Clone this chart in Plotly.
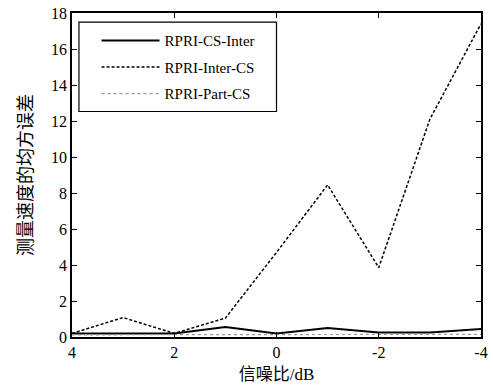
import plotly.graph_objects as go

snr = [4, 3, 2, 1, 0, -1, -2, -3, -4]
cs_inter = [0.2, 0.2, 0.2, 0.55, 0.2, 0.5, 0.25, 0.25, 0.45]
inter_cs = [0.2, 1.08, 0.2, 1.05, 4.7, 8.45, 3.85, 12.1, 17.4]
part_cs = [0.12, 0.12, 0.12, 0.15, 0.12, 0.12, 0.12, 0.12, 0.15]

names = ["RPRI-CS-Inter", "RPRI-Inter-CS", "RPRI-Part-CS"]
x_ticks = [4, 2, 0, -2, -4]
x_tick_text = ["4", "2", "0", "-2", "-4"]
y_ticks = list(range(0, 19, 2))

fig = go.Figure()
fig.add_trace(go.Scatter(x=snr, y=cs_inter, name=names[0], mode="lines",
                         line=dict(color="black", width=2), legendgroup="a"))
fig.add_trace(go.Scatter(x=snr, y=inter_cs, name=names[1], mode="lines",
                         line=dict(color="black", width=1.5, dash="3px,2px"), legendgroup="b"))
fig.add_trace(go.Scatter(x=snr, y=part_cs, name=names[2], mode="lines",
                         line=dict(color="#9a9a9a", width=1.2, dash="dot"), legendgroup="c"))

font_main = "'Liberation Serif', 'Times New Roman', 'Noto Sans CJK SC', serif"
tick_font = dict(family=font_main, size=16, color="black")

fig.update_layout(
    width=493, height=389,
    margin=dict(l=72, r=5, t=11, b=52),
    paper_bgcolor="white", plot_bgcolor="white",
    font=dict(family=font_main, size=15, color="black"),
    showlegend=True,
    legend=dict(x=0.06, y=0.965, xanchor="left", yanchor="top",
                bgcolor="rgba(0,0,0,0)", borderwidth=0,
                font=dict(size=15, family=font_main),
                tracegroupgap=4, itemwidth=58),
    xaxis=dict(range=[4, -4], tickvals=x_ticks, ticktext=x_tick_text,
               ticks="inside", ticklen=5, tickcolor="black", tickfont=tick_font,
               showline=True, linecolor="black", linewidth=1.5, mirror="ticks",
               showgrid=False, zeroline=False,
               title=dict(text="信噪比/dB", standoff=8,
                          font=dict(size=17, family=font_main))),
    yaxis=dict(range=[0, 18], tickvals=y_ticks,
               ticks="inside", ticklen=5, tickcolor="black", tickfont=tick_font,
               showline=True, linecolor="black", linewidth=1.5, mirror="ticks",
               showgrid=False, zeroline=False,
               title=dict(text="测量速度的均方误差", standoff=14,
                          font=dict(size=18, family=font_main))),
    shapes=[dict(type="rect", xref="paper", yref="paper",
                 x0=0.017, x1=0.5, y0=0.696, y1=0.972,
                 line=dict(color="black", width=1.2), fillcolor="rgba(0,0,0,0)")],
)

fig.write_html("out.html", config={"displayModeBar": False},
               post_script="document.body.style.margin='0';")
